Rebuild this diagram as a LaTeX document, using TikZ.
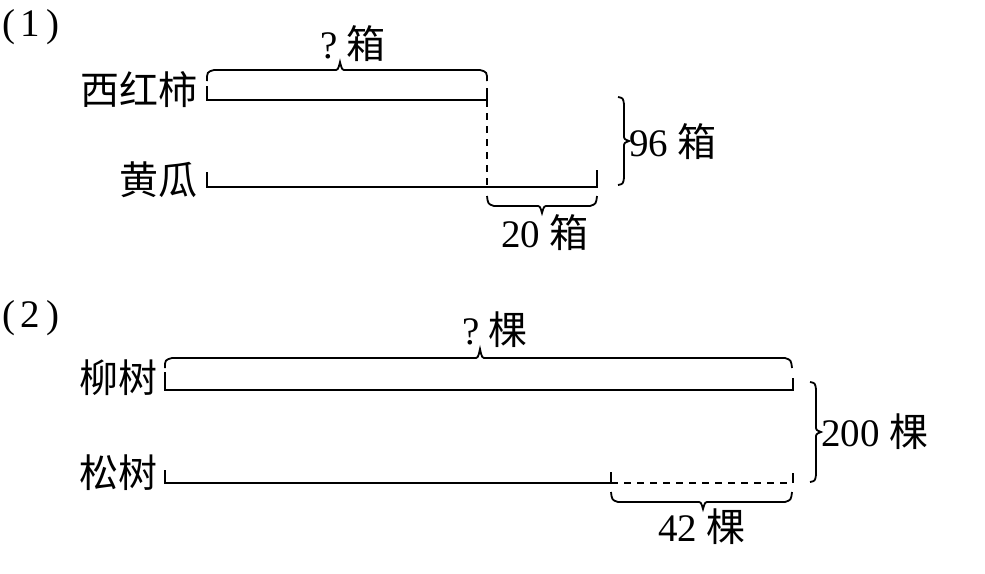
\documentclass[tikz,border=0pt]{standalone}
\usepackage{fontspec}
\setmainfont{Liberation Serif}
\newfontfamily\cjk{Noto Sans CJK SC}
\begin{document}
\begin{tikzpicture}[x=1pt,y=-1pt,
  line width=1.8pt,
  every node/.style={inner sep=0pt,outer sep=0pt},
  lbl/.style={font=\fontsize{39}{42}\selectfont},
  dsh/.style={dash pattern=on 7pt off 6pt}]
\useasboundingbox (0,0) rectangle (985,573);

% ---------- part (1)
\node[lbl,anchor=west] (n1) at (2,27) {(\hspace{6pt}1\hspace{6pt})};
\node[lbl,anchor=east] (xhs) at (197,90) {\cjk 西红柿};
\node[lbl,anchor=east] (hg) at (197,180) {\cjk 黄瓜};
\node[lbl] (q1) at (353,44) {?\hspace{9pt}{\cjk 箱}};
\node[lbl] (t20) at (545,233) {20 {\cjk 箱}};
\node[lbl,anchor=west] (t96) at (629,142) {96 {\cjk 箱}};

\coordinate (a1) at (207,100); \coordinate (a2) at (487,100);
\coordinate (b1) at (207,187); \coordinate (b2) at (487,187); \coordinate (b3) at (597,187);
% bars
\draw (207,86) -- (a1) -- (a2) -- (487,88);
\draw (207,172) -- (b1) -- (b3) -- (597,170);
\draw[dsh] (a2) -- (b2);
% top brace
\draw (207,81) .. controls (207,72) .. (214,70) -- (334,70) .. controls (338,70) .. (340,62)
      .. controls (342,70) .. (346,70) -- (480,70) .. controls (487,72) .. (487,81);
% bottom brace
\draw (487,196) .. controls (488,204) .. (494,206) -- (536,206) .. controls (540,206) .. (542,213)
      .. controls (544,206) .. (548,206) -- (590,206) .. controls (596,204) .. (597,196);
% right brace
\draw (618,97) .. controls (623,98) .. (624,104) -- (624,135) .. controls (624,139) .. (629,141)
      .. controls (624,143) .. (624,147) -- (624,178) .. controls (623,184) .. (618,185);

% ---------- part (2)
\node[lbl,anchor=west] (n2) at (2,318) {(\hspace{6pt}2\hspace{6pt})};
\node[lbl,anchor=east] (ls) at (157,378) {\cjk 柳树};
\node[lbl,anchor=east] (ss) at (157,473) {\cjk 松树};
\node[lbl] (q2) at (495,330) {?\hspace{9pt}{\cjk 棵}};
\node[lbl] (t42) at (702,527) {42 {\cjk 棵}};
\node[lbl,anchor=west] (t200) at (821,432) {200 {\cjk 棵}};

\coordinate (c1) at (165,390); \coordinate (c2) at (793,390);
\coordinate (d1) at (165,483); \coordinate (d2) at (611,483); \coordinate (d3) at (793,483);
\draw (165,372) -- (c1) -- (c2) -- (793,378);
\draw (165,470) -- (d1) -- (d2) -- (611,472);
\draw[dsh] (d2) -- (d3);
\draw (793,473) -- (d3);
% top brace
\draw (165,368) .. controls (165,360) .. (172,358) -- (474,358) .. controls (478,358) .. (480,349)
      .. controls (482,358) .. (486,358) -- (785,358) .. controls (791,360) .. (792,368);
% bottom brace
\draw (611,492) .. controls (612,500) .. (618,502) -- (697,502) .. controls (701,502) .. (703,509)
      .. controls (705,502) .. (709,502) -- (785,502) .. controls (791,500) .. (792,492);
% right brace
\draw (810,382) .. controls (815,383) .. (816,389) -- (816,426) .. controls (816,430) .. (821,432)
      .. controls (816,434) .. (816,438) -- (816,475) .. controls (815,481) .. (810,482);
\end{tikzpicture}
\end{document}
